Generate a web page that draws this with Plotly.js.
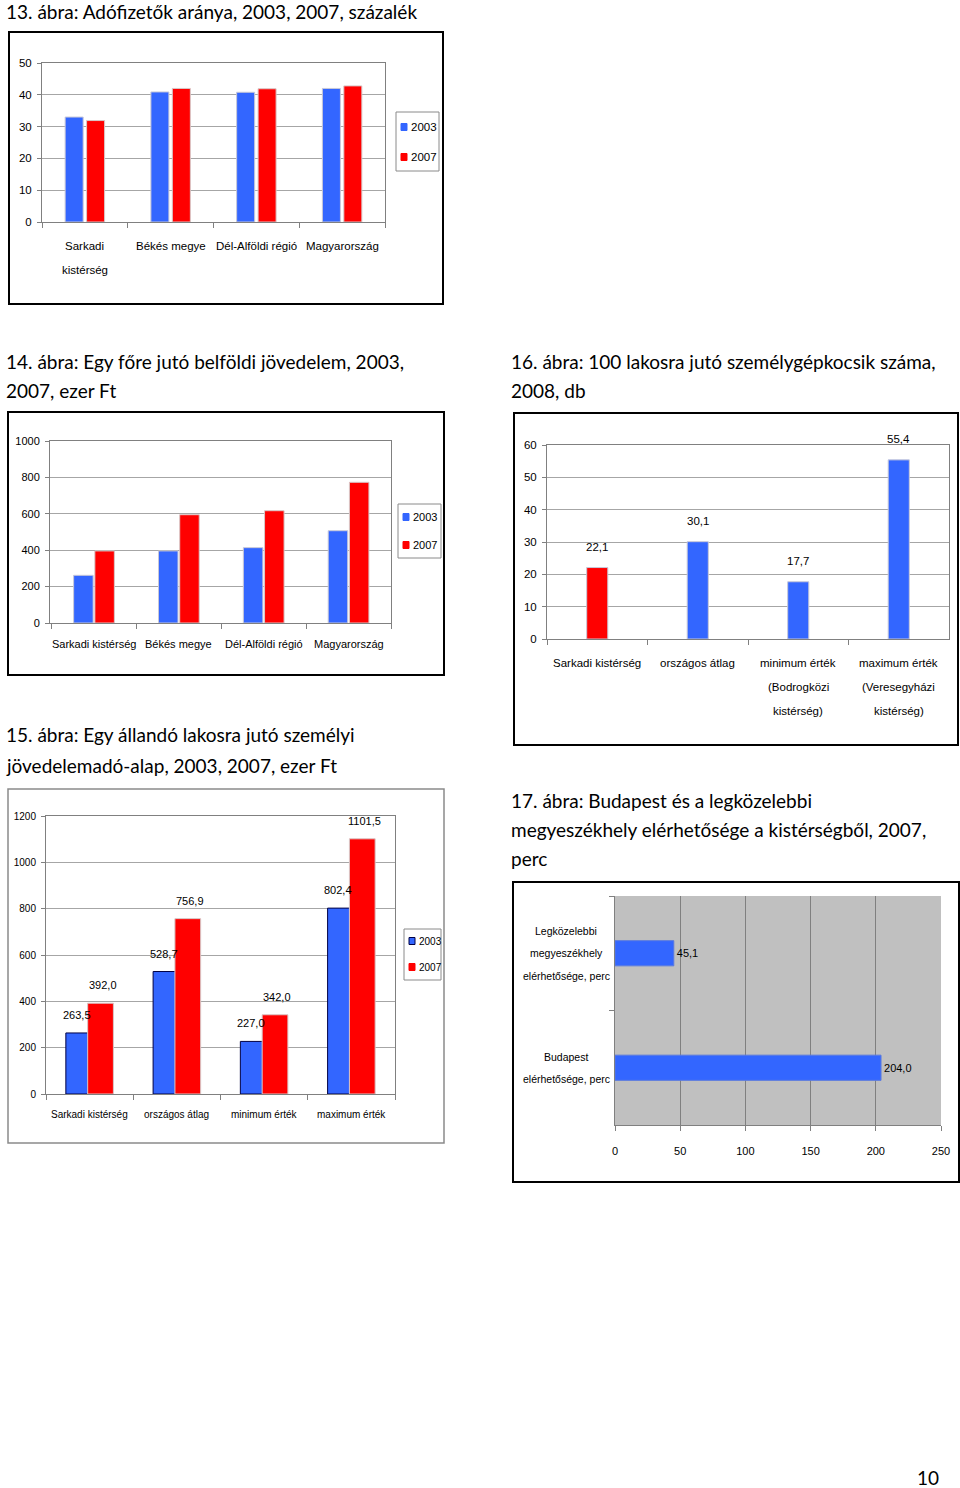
<!DOCTYPE html>
<html>
<head>
<meta charset="utf-8">
<script src="https://cdn.plot.ly/plotly-3.0.1.min.js"></script>
<style>
html,body{margin:0;padding:0;background:#fff;}
#chart{width:960px;height:1488px;}
</style>
</head>
<body>
<div id="chart"></div>
<script>
// ---------- DATA ----------
const years = ["2003", "2007"];

const cats13 = ["Sarkadi<br>kistérség", "Békés megye", "Dél-Alföldi régió", "Magyarország"];
const adofizeto2003 = [33.0, 40.9, 40.8, 42.0];
const adofizeto2007 = [31.9, 42.0, 41.9, 42.8];

const cats14 = ["Sarkadi kistérség", "Békés megye", "Dél-Alföldi régió", "Magyarország"];
const jovedelem2003 = [262, 396, 414, 507];
const jovedelem2007 = [396, 595, 617, 773];

const cats15 = ["Sarkadi kistérség", "országos átlag", "minimum érték", "maximum érték"];
const szja2003 = [263.5, 528.7, 227.0, 802.4];
const szja2007 = [392.0, 756.9, 342.0, 1101.5];

const cats16 = ["Sarkadi kistérség", "országos átlag", "minimum érték<br>(Bodrogközi<br>kistérség)", "maximum érték<br>(Veresegyházi<br>kistérség)"];
const auto2008 = [22.1, 30.1, 17.7, 55.4];

const cats17 = ["Legközelebbi<br>megyeszékhely<br>elérhetősége, perc", "Budapest<br>elérhetősége, perc"];
const perc2007 = [45.1, 204.0];

const titles = {
  t13: ["13. ábra: Adófizetők aránya, 2003, 2007, százalék"],
  t14: ["14. ábra: Egy főre jutó belföldi jövedelem, 2003,", "2007, ezer Ft"],
  t15: ["15. ábra: Egy állandó lakosra jutó személyi", "jövedelemadó-alap, 2003, 2007, ezer Ft"],
  t16: ["16. ábra: 100 lakosra jutó személygépkocsik száma,", "2008, db"],
  t17: ["17. ábra: Budapest és a legközelebbi", "megyeszékhely elérhetősége a kistérségből, 2007,", "perc"]
};
const pageNumber = "10";

// ---------- STYLE ----------
const W = 960, H = 1488;
const BLUE = "#3366ff", RED = "#ff0000";
const NARROW = "'Liberation Sans Narrow','Arial Narrow','Liberation Sans',Arial,sans-serif";
const CAL = "Lato,'Open Sans',sans-serif";
const px = x => x / W;
const py = y => 1 - y / H;

function xCat(d, anchor) {
  return {
    domain: [px(d[0]), px(d[1])], anchor: anchor, type: "category",
    showgrid: false, showline: true, linecolor: "#808080", linewidth: 1, mirror: true,
    ticks: "outside", tickson: "boundaries", ticklen: 5, tickcolor: "#808080",
    showticklabels: false, fixedrange: true, zeroline: false
  };
}
function yLin(d, anchor, max, dtick, fs) {
  return {
    domain: [py(d[1]), py(d[0])], anchor: anchor, range: [0, max], dtick: dtick,
    showgrid: true, gridcolor: "#a6a6a6", gridwidth: 1, showline: true, linecolor: "#808080",
    mirror: true, ticks: "outside", ticklen: 4, tickcolor: "#808080",
    tickfont: {family: NARROW, size: fs, color: "#000"}, zeroline: false, fixedrange: true,
    ticklabelstandoff: 3
  };
}

const traces = [];
// chart 13
traces.push({type: "bar", x: cats13, y: adofizeto2003, name: years[0], xaxis: "x", yaxis: "y", width: 0.21,
  marker: {color: BLUE, line: {color: "#c8c8d8", width: 1}}, showlegend: false, hoverinfo: "y"});
traces.push({type: "bar", x: cats13, y: adofizeto2007, name: years[1], xaxis: "x", yaxis: "y", width: 0.21,
  marker: {color: RED, line: {color: "#d8c8c8", width: 1}}, showlegend: false, hoverinfo: "y"});
// chart 14
traces.push({type: "bar", x: cats14, y: jovedelem2003, name: years[0], xaxis: "x2", yaxis: "y2", width: 0.23,
  marker: {color: BLUE, line: {color: "#c8c8d8", width: 1}}, showlegend: false, hoverinfo: "y"});
traces.push({type: "bar", x: cats14, y: jovedelem2007, name: years[1], xaxis: "x2", yaxis: "y2", width: 0.23,
  marker: {color: RED, line: {color: "#d8c8c8", width: 1}}, showlegend: false, hoverinfo: "y"});
// chart 15
traces.push({type: "bar", x: cats15, y: szja2003, name: years[0], xaxis: "x3", yaxis: "y3", width: 0.295,
  marker: {color: BLUE, line: {color: "#000044", width: 1}}, showlegend: false, hoverinfo: "y"});
traces.push({type: "bar", x: cats15, y: szja2007, name: years[1], xaxis: "x3", yaxis: "y3", width: 0.295,
  marker: {color: RED, line: {color: "#d8c8c8", width: 1}}, showlegend: false, hoverinfo: "y"});
// chart 16
traces.push({type: "bar", x: cats16, y: auto2008, name: "2008", xaxis: "x4", yaxis: "y4", width: 0.21,
  marker: {color: cats16.map((c, i) => i === 0 ? RED : BLUE), line: {color: "#c8c8d8", width: 1}},
  showlegend: false, hoverinfo: "y"});
// chart 17
traces.push({type: "bar", orientation: "h", y: cats17, x: perc2007, name: "2007", xaxis: "x5", yaxis: "y5", width: 0.22,
  marker: {color: BLUE, line: {color: "#5a7adf", width: 1}}, showlegend: false, hoverinfo: "x",
  text: perc2007.map(v => v.toFixed(1).replace(".", ",")), textposition: "outside", cliponaxis: false,
  textfont: {family: NARROW, size: 11, color: "#000"}});

// plot areas (pixel coords: [x0,x1], [ytop,ybottom])
const P13 = {x: [42, 385], y: [63, 222]};
const P14 = {x: [50, 391], y: [441, 623]};
const P15 = {x: [46, 395], y: [816, 1094]};
const P16 = {x: [547, 949], y: [445, 639]};
const P17 = {x: [615, 941], y: [896, 1125]};

const layout = {
  width: W, height: H, margin: {l: 0, r: 0, t: 0, b: 0},
  paper_bgcolor: "#fff", plot_bgcolor: "rgba(0,0,0,0)",
  separators: ",.", barmode: "group", showlegend: false, bargap: 0.5, bargroupgap: 0,
  font: {family: NARROW, color: "#000"},
  xaxis: xCat(P13.x, "y"),
  yaxis: yLin(P13.y, "x", 50, 10, 11.5),
  xaxis2: xCat(P14.x, "y2"),
  yaxis2: yLin(P14.y, "x2", 1000, 200, 11),
  xaxis3: xCat(P15.x, "y3"),
  yaxis3: yLin(P15.y, "x3", 1200, 200, 10),
  xaxis4: xCat(P16.x, "y4"),
  yaxis4: yLin(P16.y, "x4", 60, 10, 11.5),
  xaxis5: {
    domain: [px(P17.x[0]), px(P17.x[1])], anchor: "y5", range: [0, 250], dtick: 50,
    showgrid: true, gridcolor: "#808080", showline: true, linecolor: "#808080", mirror: false,
    ticks: "outside", ticklen: 5, tickcolor: "#808080", zeroline: false,
    tickfont: {family: NARROW, size: 11, color: "#000"}, ticklabelstandoff: 11, fixedrange: true
  },
  yaxis5: {
    domain: [py(P17.y[1]), py(P17.y[0])], anchor: "x5", type: "category", autorange: "reversed",
    showgrid: false, showline: true, linecolor: "#808080", ticks: "outside", tickson: "boundaries",
    ticklen: 5, tickcolor: "#808080", showticklabels: false, fixedrange: true
  },
  shapes: [], annotations: []
};

// frames
function frame(x0, y0, x1, y1, color, w) {
  layout.shapes.push({type: "rect", xref: "paper", yref: "paper", x0: px(x0), x1: px(x1), y0: py(y1), y1: py(y0),
    line: {color: color, width: w}, fillcolor: "rgba(0,0,0,0)", layer: "below"});
}
frame(9, 32, 443, 304, "#000", 2);
frame(8, 412, 444, 675, "#000", 2);
frame(8, 789, 444, 1143, "#8a8a8a", 1.5);
frame(514, 413, 958, 745, "#000", 2);
frame(513, 882, 959, 1182, "#000", 2);
// gray plot background of chart 17
layout.shapes.push({type: "rect", xref: "paper", yref: "paper", x0: px(P17.x[0]), x1: px(P17.x[1]),
  y0: py(P17.y[1]), y1: py(P17.y[0]), fillcolor: "#c0c0c0", line: {width: 0}, layer: "below"});

// manual legends
function legend(box, entries, fs) {
  layout.shapes.push({type: "rect", xref: "paper", yref: "paper", x0: px(box[0]), x1: px(box[2]),
    y0: py(box[3]), y1: py(box[1]), line: {color: "#8a8a8a", width: 1}, fillcolor: "#fff", layer: "above"});
  entries.forEach(e => {
    layout.shapes.push({type: "rect", xref: "paper", yref: "paper", x0: px(box[0] + 5), x1: px(box[0] + 11),
      y0: py(e.y + 3.5), y1: py(e.y - 3.5), line: {color: e.edge || e.color, width: 1}, fillcolor: e.color, layer: "above"});
    layout.annotations.push({xref: "paper", yref: "paper", x: px(box[0] + 13), y: py(e.y), xanchor: "left",
      yanchor: "middle", text: e.name, showarrow: false, font: {family: NARROW, size: fs, color: "#000"}});
  });
}
legend([396, 112, 439, 171], [{name: years[0], color: BLUE, y: 127}, {name: years[1], color: RED, y: 157}], 11.5);
legend([398, 504, 441, 558], [{name: years[0], color: BLUE, y: 517}, {name: years[1], color: RED, y: 545}], 11);
legend([404, 929, 441, 980], [{name: years[0], color: BLUE, edge: "#000044", y: 941}, {name: years[1], color: RED, y: 967}], 10);

// category labels drawn at the category positions of each axis
function xLabels(xa, cats, yFirst, step, fs) {
  cats.forEach(c => {
    c.split("<br>").forEach((line, j) => layout.annotations.push({
      xref: xa, yref: "paper", x: c, y: py(yFirst + j * step), xanchor: "center", yanchor: "middle",
      text: line, showarrow: false, font: {family: NARROW, size: fs, color: "#000"}}));
  });
}
function yLabels(ya, cats, xCenter, step, fs) {
  cats.forEach(c => {
    const lines = c.split("<br>");
    lines.forEach((line, j) => layout.annotations.push({
      xref: "paper", yref: ya, x: px(xCenter), y: c, yshift: -(j - (lines.length - 1) / 2) * step,
      xanchor: "center", yanchor: "middle", text: line, showarrow: false,
      font: {family: NARROW, size: fs, color: "#000"}}));
  });
}
xLabels("x", cats13, 246, 24, 11.5);
xLabels("x2", cats14, 644, 24, 11);
xLabels("x3", cats15, 1114, 24, 10);
xLabels("x4", cats16, 663, 24, 11.5);
yLabels("y5", cats17, 566, 22.5, 10.5);

// titles
function title(lines, x, y0, step) {
  lines.forEach((t, i) => layout.annotations.push({xref: "paper", yref: "paper", x: px(x), y: py(y0 + i * step),
    xanchor: "left", yanchor: "middle", text: t, showarrow: false, font: {family: CAL, size: 19, color: "#000"}}));
}
title(titles.t13, 4, 12, 29);
title(titles.t14, 4, 361, 29);
title(titles.t15, 4, 734, 31);
title(titles.t16, 509, 361, 29);
title(titles.t17, 509, 800, 29);
layout.annotations.push({xref: "paper", yref: "paper", x: px(941), y: py(1477), xanchor: "right", yanchor: "middle",
  text: pageNumber, showarrow: false, font: {family: CAL, size: 19, color: "#000"}});

// value labels chart 15 (above grouped bars)
const fmt = v => v.toFixed(1).replace(".", ",");
cats15.forEach((c, i) => {
  layout.annotations.push({xref: "x3", yref: "y3", x: c, y: szja2003[i], xshift: -13, yshift: 18,
    text: fmt(szja2003[i]), showarrow: false, font: {family: NARROW, size: 11, color: "#000"}});
  layout.annotations.push({xref: "x3", yref: "y3", x: c, y: szja2007[i], xshift: 13, yshift: 18,
    text: fmt(szja2007[i]), showarrow: false, font: {family: NARROW, size: 11, color: "#000"}});
});
// value labels chart 16
cats16.forEach((c, i) => {
  layout.annotations.push({xref: "x4", yref: "y4", x: c, y: auto2008[i], yshift: 21,
    text: fmt(auto2008[i]), showarrow: false, font: {family: NARROW, size: 11.5, color: "#000"}});
});

Plotly.newPlot("chart", traces, layout, {staticPlot: true});
</script>
</body>
</html>
